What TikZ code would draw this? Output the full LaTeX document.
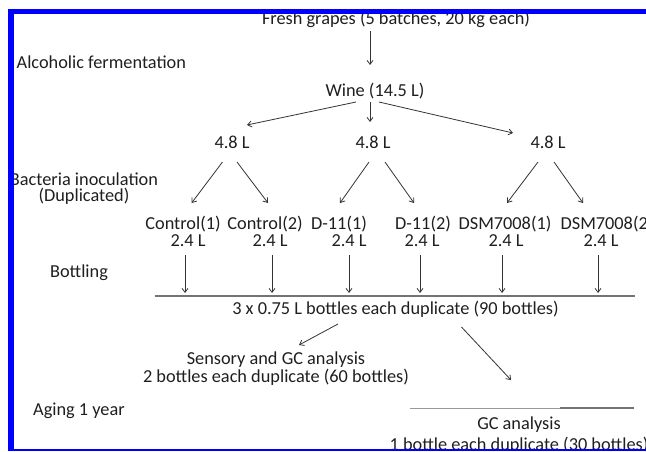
\documentclass[tikz,border=0pt]{standalone}
\usepackage{fontspec}
\setmainfont{Carlito}
\usepackage{xcolor}
\usetikzlibrary{arrows.meta,calc}

\definecolor{frameblue}{RGB}{0,0,255}

\begin{document}
\begin{tikzpicture}[
  x=1pt, y=-1pt,
  font=\fontsize{18.3}{16}\selectfont, >={Straight Barb[length=4pt,width=6pt]},
  lbl/.style={anchor=base, inner sep=0pt, text=black!88},
  stage/.style={lbl, anchor=base west},
  flow/.style={->, draw=black!80, line width=0.8pt},
  bar/.style={draw=black!55, line width=1.7pt},
]
\useasboundingbox (0,0) rectangle (646,452);

\begin{scope}
\clip (8,9.5) rectangle (646,450);
% ---------- stage names (left) ----------
\node[stage] (alc) at (16.5,69) {Alcoholic fermentation};
\node[lbl, align=center] (inoc) at (84,201) {Bacteria inoculation\\(Duplicated)};
\node[lbl] (bottling) at (79,277) {Bottling};
\node[stage] (aging) at (33,415) {Aging 1 year};

% ---------- grapes to wine ----------
\node[lbl] (grapes) at (396,25) {Fresh grapes (5 batches, 20 kg each)};
\node[lbl] (wine) at (375,97) {Wine (14.5 L)};
\draw[flow] ($(grapes.base)+(-26,6)$) -- ($(wine.base)+(-5,-32)$);

% ---------- wine split in three ----------
\node[lbl] (va) at (232,148) {4.8 L};
\node[lbl] (vb) at (373,148) {4.8 L};
\node[lbl] (vc) at (548,148) {4.8 L};
\draw[flow] ($(wine.base)+(-19,5)$) -- ($(va.base)+(15,-23)$);
\draw[flow] ($(wine.base)+(-5,5)$) -- ($(vb.base)+(-3,-26)$);
\draw[flow] ($(wine.base)+(4,5)$) -- ($(vc.base)+(-35,-15)$);

% ---------- inoculated duplicates ----------
\node[lbl] (c1) at (183,229) {Control(1)};
\node[lbl] (c2) at (265,229) {Control(2)};
\node[lbl] (d1) at (339,229) {D-11(1)};
\node[lbl] (d2) at (423,229) {D-11(2)};
\node[lbl] (e1) at (505,229) {DSM7008(1)};
\node[lbl] (e2) at (607,229) {DSM7008(2)};
\draw[flow] ($(va.base)+(-9.5,14)$) -- ($(c1.base)+(8.6,-26)$);
\draw[flow] ($(va.base)+(5,14)$)    -- ($(c2.base)+(3,-26)$);
\draw[flow] ($(vb.base)+(-4,14)$)   -- ($(d1.base)+(1,-26)$);
\draw[flow] ($(vb.base)+(12,14)$)   -- ($(d2.base)+(-9,-26)$);
\draw[flow] ($(vc.base)+(-10,14)$)  -- ($(e1.base)+(2,-26)$);
\draw[flow] ($(vc.base)+(6,14)$)    -- ($(e2.base)+(-24,-26)$);

% ---------- bottling ----------
\node[lbl] (q1) at (188,246) {2.4 L};
\node[lbl] (q2) at (270,246) {2.4 L};
\node[lbl] (q3) at (349,246) {2.4 L};
\node[lbl] (q4) at (422,246) {2.4 L};
\node[lbl] (q5) at (506,246) {2.4 L};
\node[lbl] (q6) at (601,246) {2.4 L};
\foreach \i/\dx in {1/-3,2/2,3/0,4/-2,5/-4,6/-3}
  \draw[flow] ($(q\i.base)+(\dx,9)$) -- ($(q\i.base)+(\dx,47)$);
\coordinate (barL) at (154.5,296);
\coordinate (barR) at (634.5,296);
\draw[bar] (barL) -- (barR);
\node[lbl] (total) at (395.5,314) {3 x 0.75 L bottles each duplicate (90 bottles)};

% ---------- analyses ----------
\node[lbl, align=center] (sens) at (276,382) {Sensory and GC analysis\\2 bottles each duplicate (60 bottles)};
\node[lbl, align=center] (gc) at (519,450) {GC analysis\\[3pt]1 bottle each duplicate (30 bottles)};
\draw[flow] ($(total.base)+(-57.5,10)$) -- ($(sens.base)+(23,-37)$);
\draw[flow] ($(total.base)+(66,13)$) -- ($(gc.base)+(-8,-70)$);
\coordinate (ageL) at (410,408);
\coordinate (ageM) at (560,408);
\coordinate (ageR) at (634,408);
\draw[draw=black!40, line width=1pt] (ageL) -- (ageM);
\draw[draw=black!55, line width=1.5pt] (ageM) -- (ageR);
\end{scope}

% ---------- blue frame ----------
\fill[frameblue] (8,9.5) rectangle (646,14.5);
\fill[frameblue] (8,9.5) rectangle (13.5,451);
\fill[frameblue] (8,449) rectangle (646,451);
\end{tikzpicture}
\end{document}
